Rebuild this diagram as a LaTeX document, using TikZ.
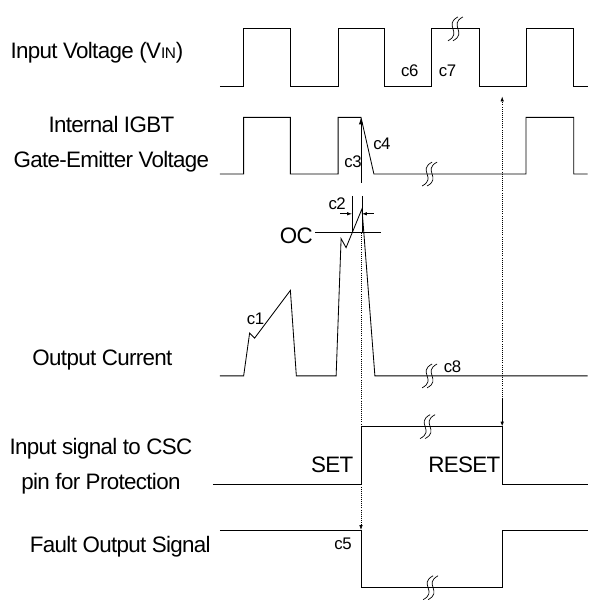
\documentclass[tikz,border=0pt]{standalone}
\usepackage{fontspec}
\setmainfont{Liberation Sans}[LetterSpace=-3]
\usetikzlibrary{arrows.meta}

% break mark: two slanted S strokes
\newcommand{\brkmark}[2]{%
  \foreach \d in {-2.5,2.5}
    \draw[line width=0.5pt] ({#1+\d+5},{#2-12}) .. controls ({#1+\d-10},{#2-4}) and ({#1+\d+10},{#2+4}) .. ({#1+\d-5},{#2+12});}

\begin{document}
\begin{tikzpicture}[x=0.025cm,y=-0.025cm,
  trace/.style={line width=0.6pt},
  lbl/.style={font=\fontsize{16}{25}\selectfont,align=center,inner sep=0pt},
  clbl/.style={font=\fontsize{12}{13}\selectfont,inner sep=0pt},
  guide/.style={line width=0.5pt,densely dotted},
  tip/.style={-{Latex[length=5pt,width=3pt]}}]
\path (0,0) rectangle (595,600);
% signal names
\node[lbl] (vin) at (97.5,53) {Input Voltage (V{\fontsize{11}{13}\selectfont IN})};
\node[lbl] (vge) at (112,145.5) {Internal IGBT\\Gate-Emitter Voltage};
\node[lbl] (iout) at (103,362) {Output Current};
\node[lbl] (csc) at (101.5,468.5) {Input signal to CSC\\pin for Protection};
\node[lbl] (fo) at (121,550) {Fault Output Signal};
% input voltage
\draw[trace] (221,87) -- (245,87) -- (245,29) -- (292,29) -- (292,87) -- (340,87) -- (340,29) -- (387,29) -- (387,87)
  -- (434,87) -- (434,29) -- (482,29) -- (482,87) -- (529,87) -- (529,29) -- (577,29) -- (577,87) -- (591,87);
\brkmark{458}{29}
% gate-emitter voltage
\draw[trace] (221,175) -- (245,175) -- (245,118) -- (292,118) -- (292,175) -- (340,175) -- (340,118) -- (363,118)
  -- (376,175) -- (529,175) -- (529,118) -- (577,118) -- (577,175) -- (591,175);
\brkmark{432}{175}
% output current
\draw[trace] (221,378) -- (245,378) -- (251,335) -- (256,340) -- (292,292) -- (298,378) -- (338,378)
  -- (343,240) -- (348,249) -- (364,210) -- (377,378) -- (591,378);
\brkmark{432}{378}
% CSC input
\draw[trace] (214,487) -- (363,487) -- (363,429) -- (505,429) -- (505,487) -- (591,487);
\brkmark{430}{429}
% fault output
\draw[trace] (221,533) -- (363,533) -- (363,591) -- (505,591) -- (505,533) -- (591,533);
\brkmark{433}{591}
% OC level
\node[lbl] (oc) at (298,237) {OC};
\coordinate (ocR) at (383,234);
\draw[trace] (oc.east) ++(2,-3) coordinate (ocL) -- (ocR);
% c2 delay
\coordinate (c2a) at (354,197);
\coordinate (c2b) at (354,234);
\coordinate (c2c) at (364,197);
\coordinate (c2d) at (364,234);
\draw[line width=0.5pt] (c2a) -- (c2b);
\draw[line width=0.5pt] (c2c) -- (c2d);
\coordinate (c2l) at (342,215);
\coordinate (c2r) at (376,215);
\draw[line width=0.5pt,-{Latex[length=3.5pt,width=2.5pt]}] (c2l) -- (c2a |- c2l);
\draw[line width=0.5pt,-{Latex[length=3.5pt,width=2.5pt]}] (c2r) -- (c2c |- c2r);
% SET guide
\coordinate (setT) at (363,234);
\coordinate (setB) at (363,533);
\draw[guide,-{Latex[length=3.5pt,width=2.5pt]}] (setT) -- (setB);
% c3 arrow
\coordinate (c3B) at (363,184);
\coordinate (c3T) at (363,118);
\draw[line width=0.6pt,tip] (c3B) -- (c3T);
% RESET guide
\coordinate (rstB) at (505,401);
\coordinate (rstT) at (505,97);
\coordinate (rstE) at (505,429);
\draw[guide,-{Latex[length=3.5pt,width=2.5pt]}] (rstB) -- (rstT);
\draw[line width=0.8pt,-{Latex[length=3.5pt,width=2.5pt]}] (rstB) -- (rstE);
% labels
\node[lbl] (set) at (334,467) {SET};
\node[lbl] (reset) at (467,467) {RESET};
\node[clbl] (c1) at (257,321) {c1};
\node[clbl] (c2) at (339,205) {c2};
\node[clbl] (c3) at (355,163) {c3};
\node[clbl] (c4) at (384,145) {c4};
\node[clbl] (c5) at (345,547) {c5};
\node[clbl] (c6) at (412,71) {c6};
\node[clbl] (c7) at (450,71) {c7};
\node[clbl] (c8) at (455,369) {c8};
\end{tikzpicture}
\end{document}
